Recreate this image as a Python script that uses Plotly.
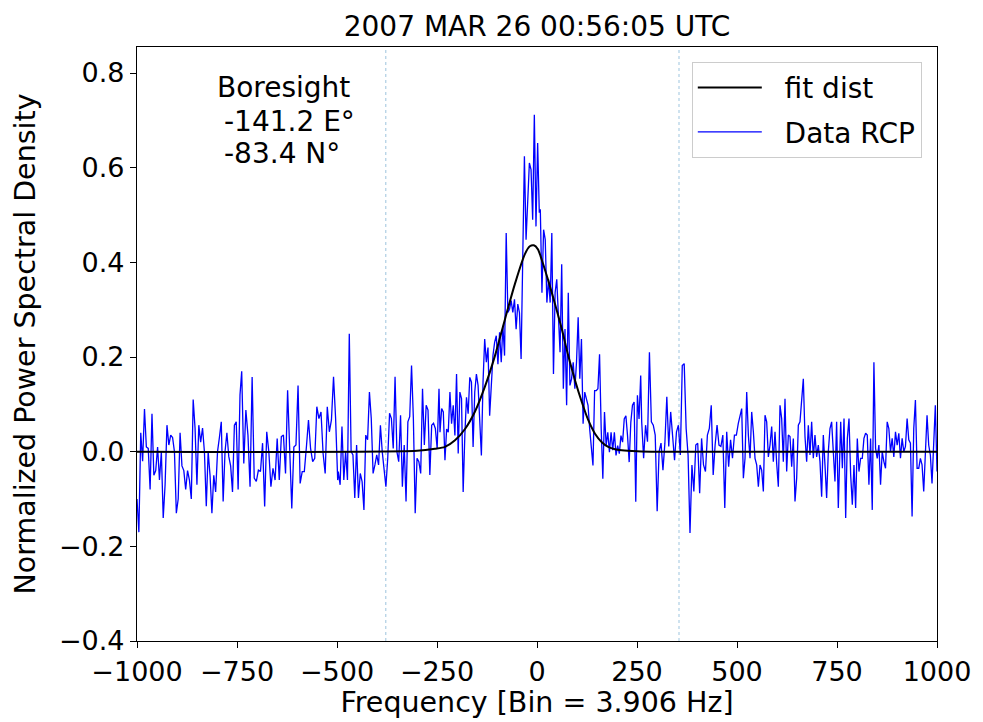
import numpy as np
import plotly.graph_objects as go

# RCP power spectrum, stored as eight consecutive frequency blocks
# (each block: start/end frequency in bins, then the normalized PSD values)
rcp_block_edges = [
    (-1000.0, -742.5),
    (-738.25, -498.25),
    (-496.75, -245.0),
    (-242.5, 5.75),
    (8.25, 259.25),
    (261.75, 503.25),
    (511.75, 753.25),
    (759.25, 1000.0),
]

rcp_block1 = [-0.10, -0.17, 0.04, -0.02, 0.09, 0.01, 0.007, -0.08, 0.08, -0.05, -0.04, 0.01, -0.06, 0.0,
              -0.14, -0.07, 0.056, 0.014, 0.035, 0.03, 0.0, -0.13, -0.10, 0.04, -0.03, -0.04, -0.08, -0.04,
              -0.06, -0.10, 0.11, 0.05, -0.07, 0.056, 0.02, 0.05, 0.0, -0.115, 0.0, -0.05, -0.13, -0.05,
              -0.085, 0.0, 0.03, 0.063, -0.105, 0.0, 0.04, -0.01, -0.03, -0.085, 0.056, 0.063, -0.08, 0.12]

rcp_block2 = [0.17, -0.025, 0.088, 0.035, -0.074, 0.158, -0.056, -0.063, -0.039, -0.042, 0.018, -0.116,
              0.042, 0.0, -0.074, -0.035, -0.06, 0.028, -0.06, 0.032, 0.035, -0.046, 0.13, -0.004, -0.12,
              0.01, 0.014, 0.14, -0.067, -0.042, -0.042, 0.01, 0.067, 0.007, -0.021, -0.014, 0.095, 0.07,
              0.084, -0.004, -0.046, 0.095, 0.042, 0.067, 0.158, 0.07, -0.06]

rcp_block3 = [-0.042, -0.07, 0.053, -0.06, 0.0, -0.06, 0.249, 0.0, -0.007, -0.098, 0.014, -0.098, -0.046,
              -0.063, -0.123, 0.035, 0.025, 0.126, 0.07, -0.046, -0.028, -0.007, -0.028, 0.056, 0.0,
              -0.032, -0.074, -0.014, 0.081, 0.07, 0.007, 0.158, 0.0, -0.021, 0.077, -0.074, 0.014,
              -0.105, 0.063, 0.074, 0.182, 0.07, -0.13, -0.014, -0.021, -0.046, 0.133, 0.014, 0.098,
              0.088, -0.049, 0.056, 0.06, 0.049, 0.007, 0.133]

rcp_block4 = [0.041, 0.091, 0.084, -0.018, 0.048, 0.041, 0.126, 0.059, 0.098, 0.034, 0.164, -0.004, 0.126,
              0.112, -0.085, 0.034, 0.115, 0.08, 0.157, 0.147, 0.01, 0.126, 0.164, 0.14, 0.069, -0.008,
              0.147, 0.238, 0.189, 0.22, 0.076, 0.154, 0.203, 0.231, 0.245, 0.185, 0.252, 0.189, 0.266,
              0.203, 0.462, 0.294, 0.301, 0.319, 0.294, 0.322, 0.259, 0.312, 0.294, 0.196, 0.371, 0.624,
              0.448, 0.533, 0.61, 0.596, 0.49, 0.712, 0.476, 0.652, 0.505]

rcp_block5 = [0.512, 0.336, 0.469, 0.448, 0.315, 0.364, 0.315, 0.462, 0.164, 0.336, 0.364, 0.273, 0.21,
              0.396, 0.133, 0.259, 0.098, 0.336, 0.14, 0.154, 0.189, 0.133, 0.189, 0.284, 0.154, 0.238,
              0.059, 0.126, 0.112, 0.098, 0.048, 0.01, -0.029, 0.129, 0.129, 0.133, 0.206, 0.048, -0.057,
              0.084, 0.013, 0.041, -0.001, 0.041, 0.003, 0.041, -0.008, 0.013, -0.004, 0.034, 0.02, 0.069,
              0.076, 0.034, -0.022, 0.062, 0.098, 0.105, -0.106, 0.119, 0.069, 0.161]

rcp_block6 = [0.063, -0.014, 0.056, 0.021, 0.21, 0.063, 0.056, 0.035, -0.126, 0.0, 0.018, -0.039, 0.018,
              0.116, 0.011, 0.084, 0.021, -0.018, 0.042, 0.056, -0.007, 0.182, 0.186, 0.049, -0.007,
              -0.172, -0.028, -0.084, 0.014, 0.018, -0.088, 0.028, -0.028, -0.042, 0.035, 0.049, 0.098,
              -0.049, 0.014, 0.056, 0.014, 0.011, 0.035, -0.119, 0.042, -0.032, 0.025, -0.014, 0.035,
              0.035, 0.06]

rcp_block7 = [0.091, -0.056, -0.014, 0.126, 0.035, -0.014, 0.084, 0.042, -0.014, -0.028, -0.074, -0.028,
              -0.039, -0.084, 0.077, 0.063, -0.011, 0.014, 0.053, -0.021, 0.042, -0.025, -0.074, 0.098,
              0.07, -0.021, 0.112, -0.042, 0.035, 0.032, -0.032, 0.028, -0.105, -0.056, 0.056, 0.063,
              0.105, 0.154, 0.032, -0.021, 0.056, -0.007, 0.063, -0.014, 0.035, -0.011, 0.014, -0.021,
              -0.095, 0.035, -0.028, -0.098, 0.0, 0.049, 0.063, -0.014, -0.063, 0.063, -0.119]

rcp_block8 = [0.063, -0.035, 0.07, -0.14, 0.028, 0.07, -0.049, -0.112, -0.028, -0.119, 0.028, -0.042,
              -0.014, -0.014, 0.028, 0.039, 0.035, -0.07, 0.028, -0.123, 0.189, 0.007, -0.014, 0.014,
              -0.07, 0.0, -0.021, -0.035, 0.063, 0.049, 0.0, 0.028, -0.011, 0.042, 0.014, 0.039, -0.014,
              0.028, 0.0, 0.011, 0.07, 0.025, 0.018, -0.137, 0.049, 0.109, -0.035, -0.035, -0.014,
              -0.028, -0.084, -0.014, 0.077, 0.014, -0.007, -0.067, 0.028, 0.098, -0.042]

# fitted line-shape, sampled in bins
fit_freq = [-1000, -300, -255, -230, -205, -180, -155, -130, -105, -80, -55, -30, -18, -8, 2, 12, 28,
            45, 62, 78, 95, 112, 128, 145, 162, 178, 195, 212, 250, 300, 1000]
fit_psd = [0.0, 0.002, 0.006, 0.010, 0.024, 0.048, 0.085, 0.138, 0.203, 0.280, 0.355, 0.418, 0.434,
           0.436, 0.428, 0.405, 0.362, 0.312, 0.259, 0.203, 0.151, 0.105, 0.067, 0.038, 0.020, 0.010,
           0.005, 0.003, 0.001, 0.0, 0.0]

# bandwidth limits marked with dotted lines
band_limits = [-378, 355]

x_ticks = [-1000, -750, -500, -250, 0, 250, 500, 750, 1000]
y_ticks = [-0.4, -0.2, 0.0, 0.2, 0.4, 0.6, 0.8]

title_text = "2007 MAR 26 00:56:05 UTC"
boresight_lines = ["Boresight", "-141.2 E°", "-83.4 N°"]

# assemble the RCP spectrum
rcp_blocks = [rcp_block1, rcp_block2, rcp_block3, rcp_block4,
              rcp_block5, rcp_block6, rcp_block7, rcp_block8]
rcp_freq = np.concatenate([np.linspace(a, b, len(v)) for (a, b), v in zip(rcp_block_edges, rcp_blocks)])
rcp_psd = np.concatenate([np.asarray(v, dtype=float) for v in rcp_blocks])

FONT = "DejaVu Sans"
GAP = "\u00a0\u00a0"  # spacing between legend line sample and its label

fig = go.Figure()

fig.add_trace(go.Scatter(
    x=rcp_freq, y=rcp_psd, mode="lines", name=GAP + "Data RCP",
    line=dict(color="#0000ff", width=1.3),
    legendrank=2, legendgroup="rcp",
))
fig.add_trace(go.Scatter(
    x=fit_freq, y=fit_psd, mode="lines", name=GAP + "fit dist",
    line=dict(color="#000000", width=2, shape="spline", smoothing=0.8),
    legendrank=1, legendgroup="fit",
))

for f in band_limits:
    fig.add_shape(type="line", xref="x", yref="paper", x0=f, x1=f, y0=0, y1=1,
                  line=dict(color="rgba(31,119,180,0.55)", width=0.8, dash="dot"),
                  layer="below")

ann_y = [0.931, 0.875, 0.820]
ann_x = [0.097, 0.106, 0.106]
for txt, ax_, ay_ in zip(boresight_lines, ann_x, ann_y):
    fig.add_annotation(text=txt, xref="paper", yref="paper", x=ax_, y=ay_,
                       xanchor="left", yanchor="middle", showarrow=False,
                       font=dict(family=FONT, size=28, color="black"))

axis_common = dict(
    showline=True, mirror=True, linecolor="black", linewidth=1.2,
    ticks="outside", ticklen=6, tickwidth=1.2, tickcolor="black",
    showgrid=False, zeroline=False,
    tickfont=dict(family=FONT, size=27, color="black"),
)

fig.update_xaxes(range=[-1000, 1000], tickvals=x_ticks,
                 title=dict(text="Frequency [Bin = 3.906 Hz]",
                            font=dict(family=FONT, size=28.5, color="black"), standoff=4),
                 **axis_common)
fig.update_yaxes(range=[-0.4, 0.855], tickvals=y_ticks, tickformat=".1f",
                 title=dict(text="Normalized Power Spectral Density",
                            font=dict(family=FONT, size=28.5, color="black"), standoff=14),
                 **axis_common)

fig.update_layout(
    width=983, height=722,
    margin=dict(l=137, r=46, t=47, b=79, pad=0),
    paper_bgcolor="white", plot_bgcolor="white",
    font=dict(family=FONT, color="black"),
    title=dict(text=title_text, x=0.5, xref="paper", xanchor="center",
               y=1 - 26 / 722, yref="container", yanchor="middle",
               font=dict(family=FONT, size=28, color="black")),
    legend=dict(
        x=0.981, y=0.975, xanchor="right", yanchor="top",
        bgcolor="rgba(255,255,255,0.8)", bordercolor="#cccccc", borderwidth=1,
        font=dict(family=FONT, size=28, color="black"),
        traceorder="grouped", tracegroupgap=5, itemwidth=64,
    ),
    showlegend=True,
)

fig.write_html("out.html")
